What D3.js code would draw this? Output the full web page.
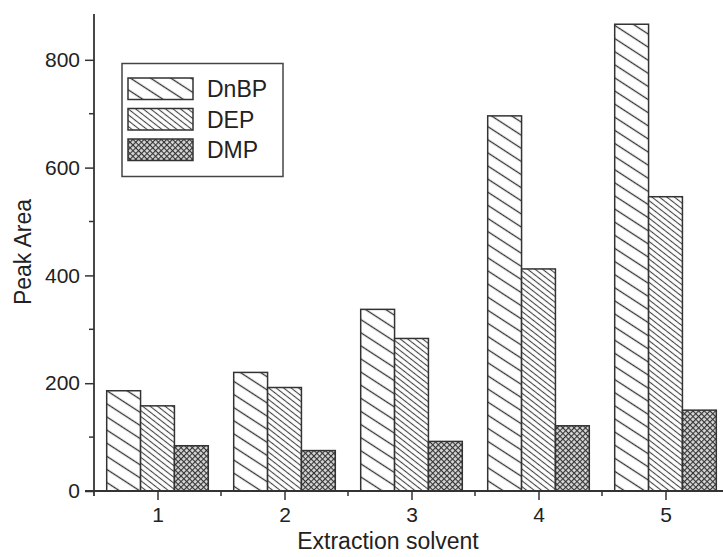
<!DOCTYPE html>
<html>
<head>
<meta charset="utf-8">
<script src="https://cdn.jsdelivr.net/npm/d3@7/dist/d3.min.js"></script>
<style>
  html, body { margin: 0; padding: 0; background: #fff; }
  svg { display: block; }
  text { font-family: "Liberation Sans", Arial, sans-serif; fill: #222; }
</style>
</head>
<body>
<svg id="chart" width="723" height="557"></svg>
<script>
// Peak area of three phthalates for five extraction solvents
const categories = ["1", "2", "3", "4", "5"];
const seriesNames = ["DnBP", "DEP", "DMP"];
const dnbp = [186, 220, 337, 696, 866];
const dep  = [158, 192, 283, 412, 546];
const dmp  = [84, 75, 92, 121, 150];
const yTicks = [0, 200, 400, 600, 800];
const yMinorTicks = [100, 300, 500, 700];
const xTitle = "Extraction solvent";
const yTitle = "Peak Area";

const seriesValues = { DnBP: dnbp, DEP: dep, DMP: dmp };

(function () {
  const svg = d3.select("#chart");
  const ink = "#333";

  // Plot frame
  const plotLeft = 94, plotBottom = 491, plotTop = 14, plotRight = 729;

  // one unit cell per solvent, groups centred on the integer positions
  const xc = d3.scaleLinear().domain([0.5, categories.length + 0.5]).range([plotLeft, plotRight]);
  const step = xc(2) - xc(1);
  const groupW = step * 0.8;
  const xs = d3.scaleBand().domain(seriesNames).range([0, groupW]);
  const y = d3.scaleLinear().domain([0, 885]).range([plotBottom, plotTop]);

  // Hatch patterns
  const defs = svg.append("defs");
  function hatch(id, spacing, angle, width, color) {
    const p = defs.append("pattern")
      .attr("id", id)
      .attr("patternUnits", "userSpaceOnUse")
      .attr("width", 20).attr("height", spacing)
      .attr("patternTransform", `rotate(${angle})`);
    p.append("rect").attr("width", 20).attr("height", spacing).attr("fill", "#fff");
    p.append("line").attr("x1", 0).attr("x2", 20).attr("y1", spacing / 2).attr("y2", spacing / 2)
      .attr("stroke", color).attr("stroke-width", width);
  }
  hatch("pat-DnBP", 11, 33, 1.3, ink);
  hatch("pat-DEP", 4.6, 38, 1.1, "#444");
  // DMP: fine cross-hatch mesh
  const s = 4;
  const pm = defs.append("pattern")
    .attr("id", "pat-DMP")
    .attr("patternUnits", "userSpaceOnUse")
    .attr("width", s).attr("height", s)
    .attr("patternTransform", "rotate(45)");
  pm.append("rect").attr("width", s).attr("height", s).attr("fill", "#d8d8d8");
  pm.append("line").attr("x1", 0).attr("x2", s).attr("y1", 0.5).attr("y2", 0.5)
    .attr("stroke", "#333").attr("stroke-width", 1.2);
  pm.append("line").attr("x1", 0.5).attr("x2", 0.5).attr("y1", 0).attr("y2", s)
    .attr("stroke", "#333").attr("stroke-width", 1.2);

  // Bars
  const gBars = svg.append("g");
  seriesNames.forEach(name => {
    gBars.selectAll(null)
      .data(seriesValues[name].map((v, i) => ({ i, v })))
      .join("rect")
      .attr("x", d => xc(d.i + 1) - groupW / 2 + xs(name))
      .attr("width", xs.bandwidth())
      .attr("y", d => y(d.v))
      .attr("height", d => y(0) - y(d.v))
      .attr("fill", `url(#pat-${name})`)
      .attr("stroke", ink)
      .attr("stroke-width", 1.5);
  });

  // Y axis
  const yAxis = d3.axisLeft(y).tickValues(yTicks).tickSize(9).tickPadding(5).tickSizeOuter(0);
  const gy = svg.append("g").attr("transform", `translate(${plotLeft},0)`).call(yAxis);
  gy.select(".domain").attr("stroke", ink).attr("stroke-width", 1.8).attr("d", `M0,${plotTop}V${plotBottom + 5}`);
  gy.selectAll(".tick line").attr("stroke", ink).attr("stroke-width", 1.5);
  gy.selectAll(".tick text").attr("font-size", 21).attr("fill", "#222")
    .style("font-family", "'Liberation Sans', Arial, sans-serif");
  gy.selectAll(".minor").data(yMinorTicks).join("line").attr("class", "minor")
    .attr("x1", -5).attr("x2", 0).attr("y1", d => y(d)).attr("y2", d => y(d))
    .attr("stroke", ink).attr("stroke-width", 1.5);

  // X axis
  const xAxis = d3.axisBottom(xc).tickValues(d3.range(1, categories.length + 1))
    .tickFormat((d, i) => categories[i]).tickSize(9).tickPadding(7).tickSizeOuter(0);
  const gx = svg.append("g").attr("transform", `translate(0,${plotBottom})`).call(xAxis);
  gx.select(".domain").attr("stroke", ink).attr("stroke-width", 1.8).attr("d", `M${plotLeft - 9},0H723`);
  gx.selectAll(".tick line").attr("stroke", ink).attr("stroke-width", 1.5);
  gx.selectAll(".tick text").attr("font-size", 21).attr("fill", "#222")
    .style("font-family", "'Liberation Sans', Arial, sans-serif");
  gx.selectAll(".minor").data(d3.range(1, categories.length)).join("line").attr("class", "minor")
    .attr("x1", d => xc(d + 0.5)).attr("x2", d => xc(d + 0.5)).attr("y1", 0).attr("y2", 5)
    .attr("stroke", ink).attr("stroke-width", 1.5);

  // Axis titles
  svg.append("text").attr("x", 388).attr("y", 549).attr("text-anchor", "middle")
    .attr("font-size", 23).text(xTitle);
  svg.append("text").attr("transform", "translate(31,252) rotate(-90)").attr("text-anchor", "middle")
    .attr("font-size", 23).text(yTitle);

  // Legend
  const lg = svg.append("g");
  lg.append("rect").attr("x", 122).attr("y", 63.5).attr("width", 161).attr("height", 113)
    .attr("fill", "#fff").attr("stroke", "#444").attr("stroke-width", 1.5);
  seriesNames.forEach((name, i) => {
    const yy = 78 + i * 30.5;
    lg.append("rect").attr("x", 128).attr("y", yy).attr("width", 65).attr("height", 21.5)
      .attr("fill", `url(#pat-${name})`).attr("stroke", ink).attr("stroke-width", 1.5);
    lg.append("text").attr("x", 207).attr("y", yy + 19).attr("font-size", 23).text(name);
  });
})();
</script>
</body>
</html>
